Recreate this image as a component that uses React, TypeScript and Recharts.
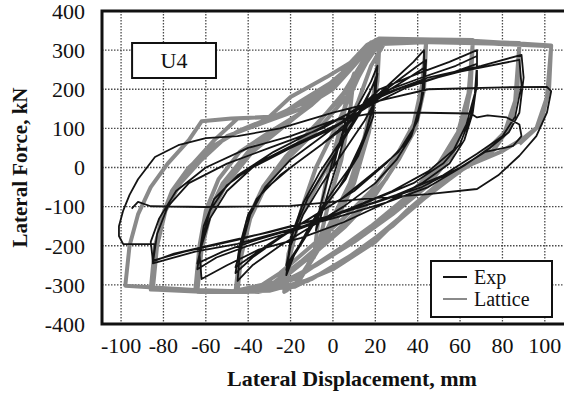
import React from 'react';
import {
  LineChart,
  Line,
  XAxis,
  YAxis,
  CartesianGrid,
  ReferenceArea,
  Legend,
} from 'recharts';

type Pt = [number, number];

// displacement (mm), force (kN) pairs, in loading order
const expElastic: Pt[] = [
  [0, 0], [3, 60], [6, 120], [8, 150], [6, 90], [2, 10], [-2, -60], [-6, -130],
  [-8, -160], [-6, -100], [-2, -20], [0, 20],
];
const expLoop20: Pt[] = [
  [5, 90], [12, 160], [18, 220], [21, 260], [20, 180], [15, 80], [8, 0], [0, -60],
  [-10, -140], [-18, -220], [-22, -275], [-20, -180], [-14, -90], [-6, -10], [4, 70],
  [12, 140], [19, 210], [21, 240], [19, 150], [13, 50], [6, -30], [-4, -100],
  [-12, -170], [-19, -230], [-22, -262], [-19, -170], [-12, -80], [-3, 0], [6, 80],
  [14, 150], [20, 225], [19, 130], [12, 30], [3, -50], [-8, -130], [-16, -200], [-22, -250],
];
const expLoop40: Pt[] = [
  [-20, -200], [-14, -120], [-5, -40], [5, 40], [15, 120], [22, 190], [30, 230],
  [38, 270], [43, 300], [43, 230], [41, 150], [37, 80], [30, 20], [20, -40], [5, -100],
  [-10, -150], [-25, -200], [-38, -250], [-45, -290], [-44, -220], [-41, -140],
  [-36, -80], [-25, -20], [-10, 40], [5, 100], [18, 170], [30, 220], [40, 260],
  [44, 275], [43, 200], [40, 120], [34, 60], [25, 10], [10, -60], [-8, -120],
  [-25, -180], [-38, -230], [-46, -270], [-44, -200], [-40, -120], [-33, -60],
  [-20, 0], [-5, 60], [10, 130], [24, 190], [36, 230], [43, 255], [42, 180], [38, 100],
  [31, 40], [20, -10], [4, -80], [-14, -140], [-30, -195], [-46, -255],
];
const expLoop65: Pt[] = [
  [-43, -200], [-39, -120], [-32, -50], [-20, 20], [-5, 80], [10, 140], [22, 200],
  [40, 240], [55, 270], [68, 300], [68, 220], [66, 140], [62, 70], [55, 10], [42, -40],
  [25, -90], [5, -140], [-15, -180], [-35, -210], [-50, -250], [-62, -285],
  [-63, -220], [-61, -150], [-56, -80], [-45, -20], [-28, 40], [-10, 90], [8, 140],
  [22, 190], [42, 230], [58, 260], [68, 285], [68, 210], [65, 130], [60, 60], [52, 10],
  [38, -40], [20, -80], [0, -125], [-20, -165], [-40, -200], [-55, -230], [-64, -260],
  [-62, -190], [-58, -110], [-50, -45], [-36, 10], [-18, 60], [2, 110], [18, 160],
  [35, 205], [55, 240], [68, 265], [67, 190], [63, 110], [57, 45], [45, -10], [28, -60],
  [8, -105], [-14, -150], [-36, -185], [-52, -215], [-64, -245],
];
const expLoop85: Pt[] = [
  [-62, -200], [-58, -130], [-50, -60], [-38, 0], [-20, 50], [0, 100], [15, 150],
  [25, 190], [45, 230], [70, 260], [89, 288], [90, 230], [88, 140], [83, 90], [74, 50],
  [62, 5], [45, -50], [25, -90], [0, -130], [-25, -165], [-45, -195], [-65, -215],
  [-85, -245], [-83, -170], [-78, -100], [-68, -40], [-50, 10], [-30, 50], [-5, 100],
  [18, 170], [35, 210], [60, 245], [88, 275], [89, 210], [86, 130], [80, 80], [68, 35],
  [52, -20], [30, -70], [5, -115], [-20, -150], [-45, -185], [-70, -215], [-85, -238],
  [-86, -190], [-82, -130], [-74, -60], [-60, 0], [-40, 50], [-20, 80],
  [0, 120], [20, 140], [43, 140], [65, 138], [68, 128], [73, 133], [82, 128],
  [88, 110], [89, 80], [85, 55], [72, 40], [60, 0], [42, -50], [20, -90], [-5, -130],
  [-30, -165], [-55, -195], [-75, -220], [-85, -240],
];
const expLoop100: Pt[] = [
  [-84, -196], [-99, -196], [-101, -175], [-101, -150], [-99, -110], [-96, -70],
  [-92, -30], [-84, 27], [-73, 57], [-60, 75], [-45, 80], [-25, 100], [0, 140],
  [25, 175], [45, 200], [80, 205], [101, 206], [103, 195], [101, 140], [96, 80],
  [88, 30], [78, -20], [68, -55], [45, -68], [15, -80], [-20, -98], [-60, -101],
  [-86, -99], [-92, -88], [-95, -105],
];

const latElastic: Pt[] = [
  [0, 0], [4, 120], [8, 210], [10, 240], [8, 140], [4, 20], [-2, -90], [-6, -180],
  [-9, -230], [-7, -140], [-3, -30], [2, 70],
];
const latLoop20: Pt[] = [
  [8, 200], [15, 280], [22, 322], [21, 220], [17, 90], [10, -40], [2, -130],
  [-8, -220], [-16, -290], [-22, -315], [-20, -220], [-15, -110], [-8, 0], [2, 110],
  [12, 230], [18, 300], [22, 325], [20, 210], [15, 80], [8, -40], [-2, -150],
  [-12, -250], [-18, -300], [-23, -318],
];
const latLoop40: Pt[] = [
  [-21, -220], [-15, -120], [-5, -20], [5, 80], [12, 170], [18, 260], [24, 315],
  [35, 328], [44, 325], [43, 220], [40, 130], [34, 50], [25, -30], [12, -110],
  [0, -170], [-15, -240], [-28, -295], [-38, -315], [-46, -318], [-44, -220],
  [-40, -130], [-33, -50], [-22, 30], [-8, 110], [4, 180], [14, 260], [22, 318],
  [44, 322], [42, 210], [38, 110], [30, 30], [18, -60], [5, -130], [-10, -200],
  [-25, -270], [-35, -305], [-45, -316], [-43, -210], [-38, -110], [-30, -30],
  [-18, 50], [-6, 120], [5, 190], [14, 270], [20, 315], [44, 320], [43, 200],
  [39, 100], [31, 20], [20, -70], [6, -150], [-10, -225], [-25, -290], [-46, -315],
];
const latLoop65: Pt[] = [
  [-43, -220], [-39, -130], [-32, -50], [-20, 30], [-5, 110], [8, 190], [16, 270],
  [22, 318], [40, 328], [66, 326], [65, 210], [62, 110], [56, 30], [44, -50],
  [28, -120], [10, -190], [-8, -250], [-25, -300], [-40, -318], [-64, -318],
  [-62, -210], [-58, -120], [-50, -40], [-38, 40], [-22, 110], [-8, 170], [6, 240],
  [16, 305], [28, 325], [66, 322], [65, 200], [61, 100], [54, 25], [42, -50],
  [26, -120], [8, -190], [-10, -255], [-28, -305], [-45, -318], [-65, -316],
  [-63, -200], [-60, -110], [-54, -30], [-44, 40], [-30, 90], [-15, 140], [-2, 200],
  [10, 270], [18, 320], [66, 320], [64, 190], [59, 90], [50, 10], [36, -70],
  [18, -150], [0, -220], [-18, -285], [-40, -316], [-64, -316],
];
const latLoop85: Pt[] = [
  [-63, -210], [-59, -120], [-52, -40], [-40, 40], [-25, 100], [-10, 160], [2, 220],
  [12, 290], [22, 325], [60, 324], [88, 318], [87, 200], [84, 110], [76, 45], [62, 0],
  [45, -70], [30, -140], [10, -220], [-10, -285], [-30, -315], [-60, -318],
  [-85, -312], [-83, -200], [-79, -110], [-72, -40], [-62, 20], [-50, 80], [-35, 110],
  [-15, 150], [0, 200], [10, 260], [18, 310], [30, 322], [88, 315], [87, 190],
  [83, 100], [75, 40], [60, -5], [43, -75], [28, -150], [8, -230], [-12, -290],
  [-35, -318], [-86, -310], [-84, -210], [-81, -130], [-76, -60], [-68, 0], [-58, 50],
  [-44, 95], [-28, 130], [-10, 175], [4, 240], [14, 300], [26, 322], [88, 316],
  [86, 170], [81, 90], [70, 30], [55, -30], [38, -100], [20, -180], [2, -250],
  [-18, -305], [-50, -318], [-86, -312],
];
const latLoop100: Pt[] = [
  [-84, -200], [-80, -120], [-74, -50], [-66, 10], [-56, 70], [-45, 125], [-30, 130],
  [-20, 180], [-3, 231], [8, 267], [16, 313], [22, 330], [60, 326], [103, 312],
  [102, 200], [98, 110], [90, 75], [80, 42], [66, 10], [50, -40], [35, -110],
  [20, -190], [0, -260], [-20, -305], [-50, -318], [-98, -302], [-96, -200],
  [-92, -120], [-86, -50], [-78, 10], [-68, 70], [-62, 118], [-48, 125], [-26, 130],
  [-15, 170], [0, 220], [10, 270], [18, 318], [40, 325], [103, 310], [101, 180],
  [96, 100], [88, 60],
];

const xTicks = [-100, -80, -60, -40, -20, 0, 20, 40, 60, 80, 100];
const yTicks = [-400, -300, -200, -100, 0, 100, 200, 300, 400];

const toRows = (pts: Pt[]) => pts.map(([d, f]) => ({ d, f }));
const expData = toRows([...expElastic, ...expLoop20, ...expLoop40, ...expLoop65, ...expLoop85, ...expLoop100]);
const latData = toRows([...latElastic, ...latLoop20, ...latLoop40, ...latLoop65, ...latLoop85, ...latLoop100]);

const SERIF = '"Liberation Serif", serif';
const EXP_COLOR = '#141414';
const LAT_COLOR = '#8a8a8a';

function YTitle(props: any) {
  const vb = props.viewBox || { x: 0, y: 11, width: 102, height: 313 };
  const cx = 20;
  const cy = vb.y + vb.height / 2;
  return (
    <text
      x={cx}
      y={cy}
      transform={`rotate(-90 ${cx} ${cy})`}
      textAnchor="middle"
      dominantBaseline="central"
      style={{ fontFamily: SERIF, fontWeight: 'bold', fontSize: 21 }}
      fill="#111"
    >
      Lateral Force, kN
    </text>
  );
}

function LegendBox() {
  const row = (color: string, width: number, label: string) => (
    <div style={{ display: 'flex', alignItems: 'center', height: 22 }}>
      <span style={{ display: 'inline-block', width: 24, height: 0, borderTop: `${width}px solid ${color}`, marginLeft: 11, marginRight: 7 }} />
      <span>{label}</span>
    </div>
  );
  return (
    <div
      style={{
        width: 119,
        height: 50,
        border: '2px solid #111',
        background: '#fff',
        fontFamily: SERIF,
        fontSize: 20,
        color: '#111',
        paddingTop: 4,
        boxSizing: 'content-box',
        lineHeight: '22px',
      }}
    >
      {row(EXP_COLOR, 2, 'Exp')}
      {row(LAT_COLOR, 2, 'Lattice')}
    </div>
  );
}

const tickStyle = { fontSize: 22, fontFamily: SERIF, fill: '#111' };

export default function App() {
  return (
    <div style={{ position: 'absolute', left: 0, top: 0, width: 564, height: 394, overflow: 'hidden', background: '#fff', fontFamily: SERIF }}>
      <LineChart width={600} height={394} margin={{ top: 11, right: 34, bottom: 0, left: 0 }} style={{ fontFamily: SERIF }}>
        <CartesianGrid stroke="#4a4a4a" strokeWidth={1.3} strokeDasharray="1.5 1.5" />
        <XAxis
          dataKey="d"
          type="number"
          domain={[-109, 110]}
          ticks={xTicks}
          allowDataOverflow
          height={70}
          axisLine={false}
          tickLine={false}
          tickMargin={7}
          interval={0}
          tick={tickStyle}
          label={{
            value: 'Lateral Displacement, mm',
            position: 'insideBottom',
            offset: 8,
            dx: 18,
            style: { fontFamily: SERIF, fontWeight: 'bold', fontSize: 22, fill: '#111' },
          }}
        />
        <YAxis
          dataKey="f"
          type="number"
          domain={[-400, 400]}
          ticks={yTicks}
          width={102}
          axisLine={false}
          tickLine={false}
          tickMargin={11}
          interval={0}
          tick={tickStyle}
          label={{ content: <YTitle /> }}
        />
        <ReferenceArea
          x1={-94.8}
          x2={-55.2}
          y1={229}
          y2={318}
          fill="#fff"
          fillOpacity={1}
          stroke="#111"
          strokeWidth={2}
          label={{ value: 'U4', style: { fontFamily: SERIF, fontSize: 22, fill: '#111' }, position: 'center' }}
        />
        <Line
          data={latData}
          dataKey="f"
          name="Lattice"
          type="linear"
          stroke={LAT_COLOR}
          strokeWidth={4}
          strokeLinejoin="round"
          dot={false}
          activeDot={false}
          isAnimationActive={false}
        />
        <Line
          data={expData}
          dataKey="f"
          name="Exp"
          type="linear"
          stroke={EXP_COLOR}
          strokeWidth={1.8}
          strokeLinejoin="round"
          dot={false}
          activeDot={false}
          isAnimationActive={false}
        />
        <ReferenceArea
          x1={-109}
          x2={110}
          y1={-400}
          y2={400}
          fill="none"
          stroke="#111"
          strokeWidth={3}
          ifOverflow="visible"
        />
        <Legend
          layout="vertical"
          align="center"
          verticalAlign="middle"
          content={<LegendBox />}
          wrapperStyle={{ position: 'absolute', left: 430, top: 260, width: 123, height: 56 }}
        />
      </LineChart>
    </div>
  );
}
